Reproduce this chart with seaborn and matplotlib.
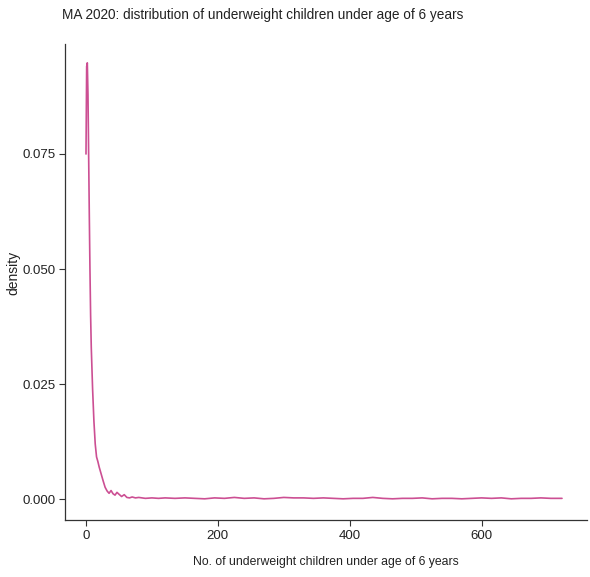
import matplotlib
matplotlib.use("Agg")
import matplotlib.pyplot as plt
import seaborn as sns
import pandas as pd
from matplotlib import font_manager

# density curve
x_vals = [0, 1, 2, 3, 4, 5, 6, 7, 8, 10, 12, 14, 16, 18, 20, 23, 26, 29, 32, 35,
          38, 41, 44, 47, 50, 54, 58, 62, 66, 70, 75, 80, 90, 100, 110, 120, 135,
          150, 165, 180, 195, 210, 225, 240, 255, 270, 285, 300, 315, 330, 345,
          360, 375, 390, 405, 420, 435, 450, 465, 480, 495, 510, 525, 540, 555,
          570, 585, 600, 615, 630, 645, 660, 675, 690, 705, 722]
density = [0.075, 0.094, 0.0948, 0.088, 0.075, 0.062, 0.050, 0.040, 0.033, 0.024,
           0.017, 0.012, 0.0092, 0.0082, 0.0070, 0.0055, 0.0040, 0.0026, 0.0018,
           0.0013, 0.0019, 0.0012, 0.0009, 0.0015, 0.0011, 0.0006, 0.0010, 0.0004,
           0.0003, 0.0005, 0.0003, 0.0004, 0.0002, 0.0003, 0.0002, 0.0003, 0.0002,
           0.0003, 0.0002, 0.0001, 0.0003, 0.0002, 0.0004, 0.0002, 0.0003, 0.0001,
           0.0002, 0.0004, 0.0003, 0.0003, 0.0002, 0.0003, 0.0002, 0.0001, 0.0002,
           0.0002, 0.0004, 0.0002, 0.0001, 0.0002, 0.0002, 0.0003, 0.0001, 0.0002,
           0.0002, 0.0001, 0.0002, 0.0003, 0.0002, 0.0003, 0.0001, 0.0002, 0.0002,
           0.0003, 0.0002, 0.0002]
x_ticks = [0, 200, 400, 600]
y_ticks = [0.000, 0.025, 0.050, 0.075]
y_tick_labels = ["0.000", "0.025", "0.050", "0.075"]

df = pd.DataFrame({"n": x_vals, "density": density})

sns.set_theme(style="ticks")
installed = {f.name for f in font_manager.fontManager.ttflist}
narrow = [n for n in ["Liberation Sans Narrow", "DejaVu Sans Condensed"] if n in installed]
plt.rcParams['font.family'] = narrow + ['Liberation Sans', 'DejaVu Sans']

fig = plt.figure(figsize=(5.9, 5.77), dpi=100)
ax = fig.add_axes([0.110, 0.098, 0.885, 0.825])

sns.lineplot(data=df, x="n", y="density", ax=ax, color="#cc4f93", linewidth=1.2)

ax.set_xlim(-32, 760)
ax.set_ylim(-0.0046, 0.0988)
ax.set_xticks(x_ticks)
ax.set_yticks(y_ticks)
ax.set_yticklabels(y_tick_labels)
lab_size = 10 if narrow else 9.5
ax.tick_params(axis="both", labelsize=lab_size, length=4, width=0.8, color="#333333",
               labelcolor="#222222", pad=3)
sns.despine(ax=ax)
for s in ["left", "bottom"]:
    ax.spines[s].set_color("#333333")
    ax.spines[s].set_linewidth(0.9)

ax.set_xlabel("No. of underweight children under age of 6 years",
              fontsize=10 if narrow else 8.8, color="#222222", labelpad=10)
ax.set_ylabel("density", fontsize=10, family=['Liberation Sans', 'DejaVu Sans'],
              color="#222222")
ax.yaxis.set_label_coords(-0.086, 0.52)
ax.set_title("MA 2020: distribution of underweight children under age of 6 years",
             fontsize=12 if narrow else 9.8, loc="left", color="#222222", pad=18, x=-0.005)

fig.savefig("out.png", dpi=100, facecolor="white")
